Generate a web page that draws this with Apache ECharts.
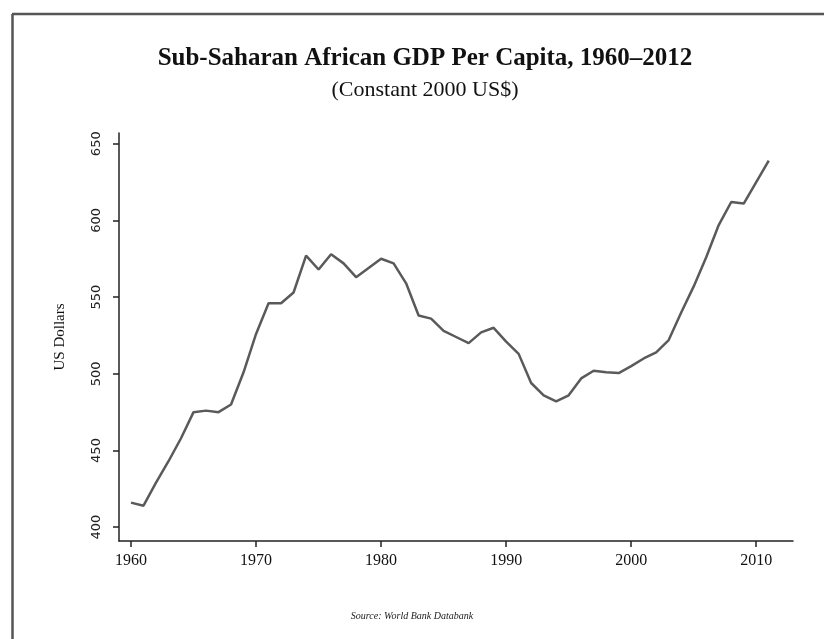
<!DOCTYPE html>
<html><head><meta charset="utf-8">
<script src="https://cdn.jsdelivr.net/npm/echarts@6/dist/echarts.min.js"></script>
<style>html,body{margin:0;padding:0;background:#fff}#c{width:824px;height:639px}</style>
</head><body><div id="c"></div>
<script>
const years = [1960,1961,1962,1963,1964,1965,1966,1967,1968,1969,
  1970,1971,1972,1973,1974,1975,1976,1977,1978,1979,
  1980,1981,1982,1983,1984,1985,1986,1987,1988,1989,
  1990,1991,1992,1993,1994,1995,1996,1997,1998,1999,
  2000,2001,2002,2003,2004,2005,2006,2007,2008,2009,
  2010,2011];
const gdp = [416,414,429,443,458,475,476,475,480,501,
  526,546,546,553,577,568,578,572,563,569,
  575,572,559,538,536,528,524,520,527,530,
  521,513,494,486,482,486,497,502,501,500.5,
  505,510,514,522,540,557,576,597,612,611,
  625,639];
const xTicks = [1960,1970,1980,1990,2000,2010];
const yTicks = [400,450,500,550,600,650];
const titleText = 'Sub-Saharan African GDP Per Capita, 1960–2012';
const subtitleText = '(Constant 2000 US$)';
const sourceText = 'Source: World Bank Databank';
const yName = 'US Dollars';

const chart = echarts.init(document.getElementById('c'), null, {renderer: 'canvas'});
const serif = '"Liberation Serif", "DejaVu Serif", serif';
chart.setOption({
  backgroundColor: '#fff',
  animation: false,
  title: [
    {text: titleText, left: 420, textAlign: 'center', top: 41,
     textStyle: {fontFamily: serif, fontSize: 25, fontWeight: 'bold', color: '#111'}},
    {text: subtitleText, left: 420, textAlign: 'center', top: 74,
     textStyle: {fontFamily: serif, fontSize: 22, fontWeight: 'normal', color: '#111'}},
    {text: sourceText, left: 'center', top: 606,
     textStyle: {fontFamily: serif, fontSize: 10, fontStyle: 'italic', fontWeight: 'normal', color: '#222'}}
  ],
  graphic: [
    {type: 'line', shape: {x1: 12, y1: 14, x2: 824, y2: 14}, style: {stroke: '#555', lineWidth: 2.5}},
    {type: 'line', shape: {x1: 12.5, y1: 14, x2: 12.5, y2: 639}, style: {stroke: '#555', lineWidth: 2.5}}
  ],
  grid: {left: 119, right: 31, top: 133, bottom: 98, containLabel: false},
  xAxis: {
    type: 'value', min: 1959.04, max: 2012.94,
    axisLine: {show: true, lineStyle: {color: '#222', width: 1.5}},
    axisTick: {show: true, customValues: xTicks, length: 6, lineStyle: {color: '#222', width: 1.5}},
    axisLabel: {customValues: xTicks, formatter: v => String(v), margin: 12,
      fontFamily: serif, fontSize: 16, color: '#111'},
    splitLine: {show: false}
  },
  yAxis: {
    type: 'value', min: 391, max: 657,
    name: yName, nameLocation: 'middle', nameRotate: 90, nameGap: 51,
    nameTextStyle: {fontFamily: serif, fontSize: 15, color: '#111'},
    axisLine: {show: true, lineStyle: {color: '#222', width: 1.5}},
    axisTick: {show: true, customValues: yTicks, length: 6, lineStyle: {color: '#222', width: 1.5}},
    axisLabel: {customValues: yTicks, rotate: 90, margin: 16, formatter: v => String(v),
      fontFamily: '"DejaVu Sans", Verdana, sans-serif', fontSize: 13, color: '#222'},
    splitLine: {show: false}
  },
  series: [{
    type: 'line',
    data: years.map((y, i) => [y, gdp[i]]),
    showSymbol: false,
    lineStyle: {color: '#5a5a5a', width: 2.5},
    itemStyle: {color: '#5a5a5a'}
  }]
});
</script>
</body></html>
